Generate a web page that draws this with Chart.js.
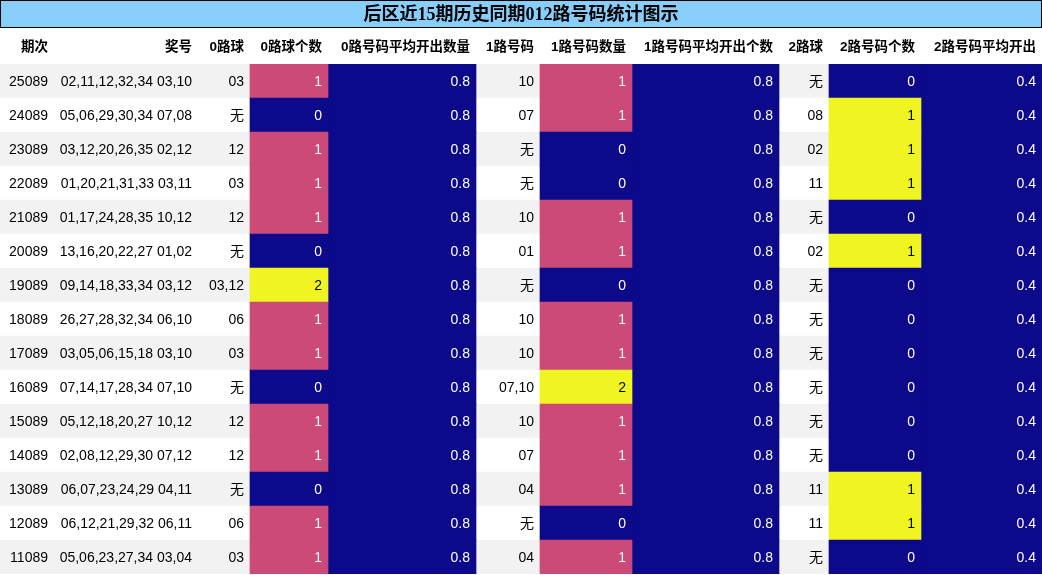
<!DOCTYPE html>
<html><head><meta charset="utf-8">
<script src="https://cdn.jsdelivr.net/npm/chart.js@4/dist/chart.umd.min.js"></script>
<style>body{margin:0;background:#fff}#wrap{width:1042px;height:575px}</style>
</head><body><div id="wrap"><canvas id="c"></canvas></div>
<script>
var issues = ['25089','24089','23089','22089','21089','20089','19089','18089','17089','16089','15089','14089','13089','12089','11089'];
var front = ['02,11,12,32,34','05,06,29,30,34','03,12,20,26,35','01,20,21,31,33','01,17,24,28,35','13,16,20,22,27','09,14,18,33,34','26,27,28,32,34','03,05,06,15,18','07,14,17,28,34','05,12,18,20,27','02,08,12,29,30','06,07,23,24,29','06,12,21,29,32','05,06,23,27,34'];
var back = ['03,10','07,08','02,12','03,11','10,12','01,02','03,12','06,10','03,10','07,10','10,12','07,12','04,11','06,11','03,04'];
var road0 = ['03','无','12','03','12','无','03,12','06','03','无','12','12','无','06','03'];
var count0 = [1,0,1,1,1,0,2,1,1,0,1,1,0,1,1];
var avg0 = [0.8,0.8,0.8,0.8,0.8,0.8,0.8,0.8,0.8,0.8,0.8,0.8,0.8,0.8,0.8];
var road1 = ['10','07','无','无','10','01','无','10','10','07,10','10','07','04','无','04'];
var count1 = [1,1,0,0,1,1,0,1,1,2,1,1,1,0,1];
var avg1 = [0.8,0.8,0.8,0.8,0.8,0.8,0.8,0.8,0.8,0.8,0.8,0.8,0.8,0.8,0.8];
var road2 = ['无','08','02','11','无','02','无','无','无','无','无','无','11','11','无'];
var count2 = [0,1,1,1,0,1,0,0,0,0,0,0,1,1,0];
var avg2 = [0.4,0.4,0.4,0.4,0.4,0.4,0.4,0.4,0.4,0.4,0.4,0.4,0.4,0.4,0.4];
var headers = ['期次','奖号','0路球','0路球个数','0路号码平均开出数量','1路号码','1路号码数量','1路号码平均开出个数','2路球','2路号码个数','2路号码平均开出'];
var title = '后区近15期历史同期012路号码统计图示';

// column edges in x-scale units
var edges = [0,55,198,250,328,476,540,632,779,829,921,1042];
var NAVY = '#0c0a8a', PINK = '#cc4a78', YEL = '#f0f522';
// colour scale per column: min navy, max yellow, between pink
function colorsFor(arr){
  var mx = Math.max.apply(null, arr), mn = Math.min.apply(null, arr);
  return arr.map(function(v){ return v === mn ? NAVY : (v === mx ? YEL : PINK); });
}
function span(i){ return issues.map(function(){ return [edges[i], edges[i+1]]; }); }

var columns = [
  issues,
  issues.map(function(_, k){ return front[k] + ' ' + back[k]; }),
  road0, count0, avg0, road1, count1, avg1, road2, count2, avg2
];
var cellColors = { 3: colorsFor(count0), 6: colorsFor(count1), 9: colorsFor(count2) };

var datasets = [
  { data: issues.map(function(){ return [0, 1042]; }), backgroundColor: issues.map(function(_, k){ return k % 2 ? '#ffffff' : '#f2f2f2'; }), order: 10 },
  { data: span(3), backgroundColor: cellColors[3], order: 1 },
  { data: span(4), backgroundColor: NAVY, order: 1 },
  { data: span(6), backgroundColor: cellColors[6], order: 1 },
  { data: span(7), backgroundColor: NAVY, order: 1 },
  { data: span(9), backgroundColor: cellColors[9], order: 1 },
  { data: span(10), backgroundColor: NAVY, order: 1 }
];

var tablePlugin = {
  id: 'tableText',
  afterDatasetsDraw: function(chart){
    var ctx = chart.ctx, xs = chart.scales.x, ys = chart.scales.y;
    ctx.save();
    // title
    ctx.fillStyle = '#87cefa';
    ctx.fillRect(0, 0, 1042, 28);
    ctx.strokeStyle = '#000'; ctx.lineWidth = 1;
    ctx.strokeRect(0.5, 0.5, 1041, 27);
    ctx.fillStyle = '#000';
    ctx.font = 'bold 18px "Liberation Serif","Noto Sans CJK SC",serif';
    ctx.textAlign = 'center'; ctx.textBaseline = 'middle';
    ctx.fillText(title, 521, 15);
    // headers
    ctx.font = 'bold 13.5px "Liberation Sans","Noto Sans CJK SC",sans-serif';
    ctx.textAlign = 'right';
    headers.forEach(function(h, i){
      ctx.fillText(h, xs.getPixelForValue(edges[i+1]) - (i === 0 ? 7 : 6), 47);
    });
    // cells
    ctx.font = '14px "Liberation Sans","Noto Sans CJK SC",sans-serif';
    columns.forEach(function(col, i){
      col.forEach(function(v, k){
        var y = ys.getPixelForValue(k);
        var bg = cellColors[i] ? cellColors[i][k] : null;
        var isAvg = (i === 4 || i === 7 || i === 10);
        ctx.fillStyle = isAvg ? '#fff' : (bg && bg !== YEL ? '#fff' : '#000');
        ctx.fillText(String(v), xs.getPixelForValue(edges[i+1]) - (i === 0 ? 7 : 6), y + 1);
      });
    });
    ctx.restore();
  }
};

new Chart(document.getElementById('c'), {
  type: 'bar',
  data: { labels: issues, datasets: datasets },
  options: {
    indexAxis: 'y',
    responsive: true,
    maintainAspectRatio: false,
    animation: false,
    layout: { padding: { top: 64, bottom: 1, left: 0, right: 0 } },
    datasets: { bar: { grouped: false, barPercentage: 1, categoryPercentage: 1, borderWidth: 0 } },
    plugins: { legend: { display: false }, tooltip: { enabled: false } },
    scales: {
      x: { type: 'linear', min: 0, max: 1042, display: false },
      y: { display: false }
    }
  },
  plugins: [tablePlugin]
});
</script></body></html>
